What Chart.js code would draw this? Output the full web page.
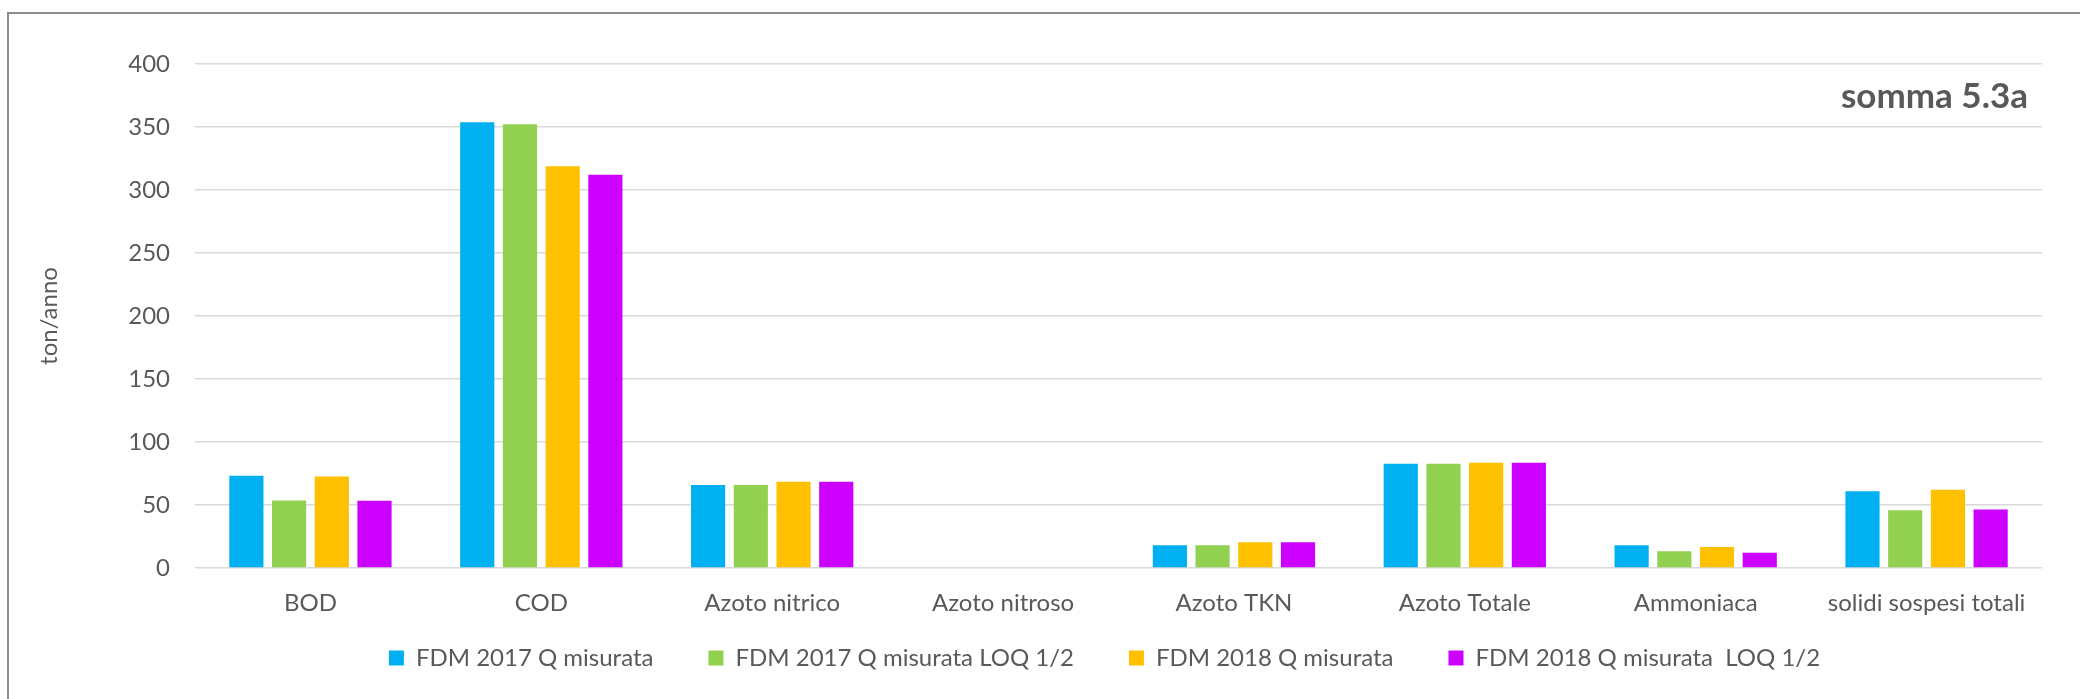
<!DOCTYPE html>
<html>
<head>
<meta charset="utf-8">
<script src="https://cdn.jsdelivr.net/npm/chart.js@4.4.1/dist/chart.umd.min.js"></script>
<style>
  html, body { margin: 0; padding: 0; background: #fff; }
  #wrap { position: relative; width: 2080px; height: 699px; }
  #frame {
    position: absolute; left: 7px; top: 12px; right: 0; bottom: 0;
    border-left: 2px solid #8c8c8c; border-top: 2px solid #8c8c8c;
    pointer-events: none;
  }
</style>
</head>
<body>
<div id="wrap">
  <canvas id="grafico" width="2080" height="699"></canvas>
  <div id="frame"></div>
</div>
<script>
// dati (ton/anno)
const categorie = ["BOD", "COD", "Azoto nitrico", "Azoto nitroso", "Azoto TKN", "Azoto Totale", "Ammoniaca", "solidi sospesi totali"];
const fdm2017 = [73.2, 353.8, 65.8, 0, 18.0, 82.7, 18.0, 61.0];
const fdm2017Loq = [53.6, 352.2, 65.8, 0, 18.0, 82.7, 13.3, 45.9];
const fdm2018 = [72.7, 318.8, 68.4, 0, 20.4, 83.5, 16.7, 62.1];
const fdm2018Loq = [53.3, 312.2, 68.4, 0, 20.4, 83.5, 12.2, 46.4];
const nomiSerie = ["FDM 2017 Q misurata", "FDM 2017 Q misurata LOQ 1/2", "FDM 2018 Q misurata", "FDM 2018 Q misurata  LOQ 1/2"];
const colori = ["#00B0F0", "#92D050", "#FFC000", "#CC00FF"];
const yTicks = [0, 50, 100, 150, 200, 250, 300, 350, 400];
const titolo = "somma 5.3a";
const titoloAsse = "ton/anno";

const FONT = "Lato";
const GRIGIO = "#595959";

// scritta in alto a destra dentro l'area del grafico
const titoloPlugin = {
  id: "titoloInterno",
  afterDraw(chart) {
    const ctx = chart.ctx;
    ctx.save();
    ctx.font = "bold 35px " + FONT;
    ctx.fillStyle = GRIGIO;
    ctx.textAlign = "right";
    ctx.textBaseline = "middle";
    ctx.fillText(titolo, chart.chartArea.right - 14, 97);
    ctx.restore();
  }
};

// la legenda ha molto spazio orizzontale tra le voci ma poco in verticale:
// la alzo e la sposto un po' a sinistra dopo il layout
const spostaLegenda = {
  id: "spostaLegenda",
  afterLayout(chart) {
    const lg = chart.legend;
    lg.top -= 37;
    lg.left -= 14;
    lg.right -= 14;
  }
};

const serie = [fdm2017, fdm2017Loq, fdm2018, fdm2018Loq];

new Chart(document.getElementById("grafico"), {
  type: "bar",
  data: {
    labels: categorie,
    datasets: serie.map((valori, i) => ({
      label: nomiSerie[i],
      data: valori,
      backgroundColor: colori[i],
      borderWidth: 0,
      categoryPercentage: 0.74,
      barPercentage: 0.8,
    })),
  },
  options: {
    responsive: false,
    animation: false,
    devicePixelRatio: 1,
    layout: { padding: { top: 64, left: 30, right: 38, bottom: 0 } },
    plugins: {
      legend: {
        position: "bottom",
        fullSize: false,
        maxHeight: 71,
        labels: {
          boxWidth: 15,
          boxHeight: 15,
          padding: 55,
          color: GRIGIO,
          font: { family: FONT, size: 24 },
        },
      },
      tooltip: { enabled: false },
    },
    scales: {
      x: {
        grid: { display: false },
        border: { display: false },
        ticks: { color: GRIGIO, padding: 13, autoSkip: false, font: { family: FONT, size: 24 }, maxRotation: 0 },
        afterFit: (s) => { s.height = 60; },
      },
      y: {
        min: 0,
        max: 400,
        afterBuildTicks: (s) => { s.ticks = yTicks.map((v) => ({ value: v })); },
        grid: { color: "#d9d9d9", lineWidth: 1.5, drawTicks: false },
        border: { display: false },
        ticks: { color: GRIGIO, padding: 25, font: { family: FONT, size: 24 } },
        title: {
          display: true,
          text: titoloAsse,
          color: GRIGIO,
          font: { family: FONT, size: 24 },
          padding: { top: 5, bottom: 0 },
        },
        afterFit: (s) => { s.width = 165; },
      },
    },
  },
  plugins: [titoloPlugin, spostaLegenda],
});
</script>
</body>
</html>
